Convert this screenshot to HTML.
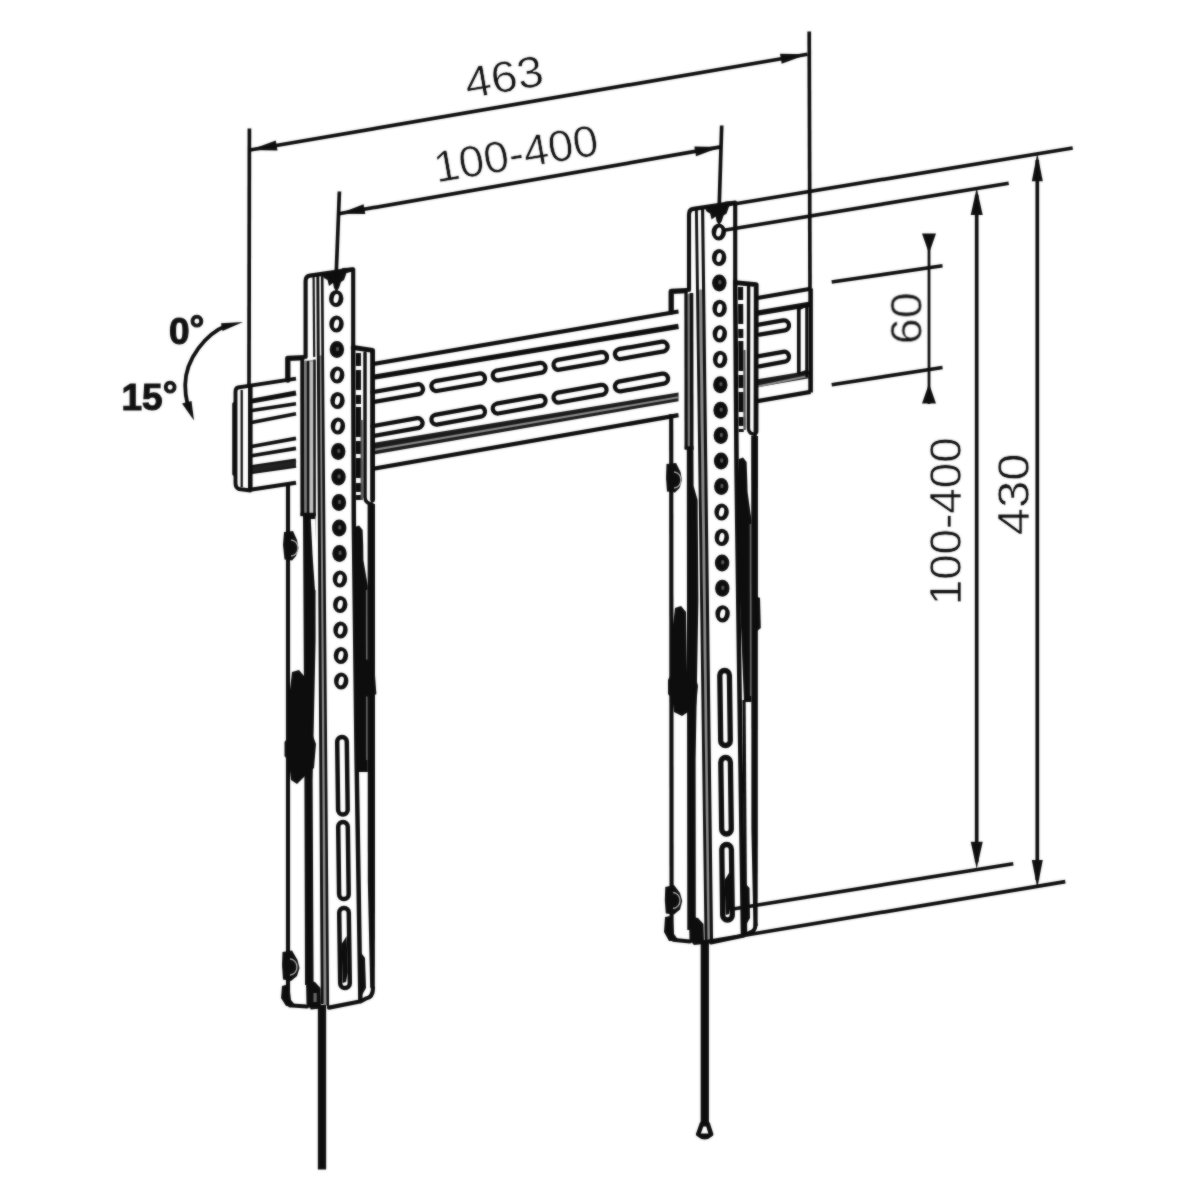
<!DOCTYPE html>
<html lang="en"><head><meta charset="utf-8"><title>Wall mount dimensions</title>
<style>html,body{margin:0;padding:0;background:#fff}svg{display:block}</style></head>
<body>
<svg width="1200" height="1200" viewBox="0 0 1200 1200">
<defs><filter id="soft" x="0" y="0" width="1200" height="1200" filterUnits="userSpaceOnUse" color-interpolation-filters="sRGB"><feGaussianBlur in="SourceGraphic" stdDeviation="0.8" result="b"/><feComposite in="SourceGraphic" in2="b" operator="arithmetic" k1="0" k2="0.5" k3="0.5" k4="0"/></filter></defs>
<rect width="1200" height="1200" fill="#fff"/>
<g filter="url(#soft)">
<text x="506.5" y="91.8" transform="rotate(-9.76 506.5 91.8)" font-family="Liberation Sans, Arial, sans-serif" font-size="44" text-anchor="middle" fill="#111" stroke="#fff" stroke-width="0.6" textLength="79" lengthAdjust="spacingAndGlyphs">463</text>
<text x="518.5" y="168.6" transform="rotate(-9.9 518.5 168.6)" font-family="Liberation Sans, Arial, sans-serif" font-size="44" text-anchor="middle" fill="#111" stroke="#fff" stroke-width="0.6" textLength="166" lengthAdjust="spacingAndGlyphs">100-400</text>
<text x="922.0" y="318.3" transform="rotate(-90 922.0 318.3)" font-family="Liberation Sans, Arial, sans-serif" font-size="45" text-anchor="middle" fill="#111" stroke="#fff" stroke-width="0.6" textLength="52" lengthAdjust="spacingAndGlyphs">60</text>
<text x="960.6" y="521.3" transform="rotate(-90 960.6 521.3)" font-family="Liberation Sans, Arial, sans-serif" font-size="45" text-anchor="middle" fill="#111" stroke="#fff" stroke-width="0.6" textLength="168" lengthAdjust="spacingAndGlyphs">100-400</text>
<text x="1029.4" y="494.3" transform="rotate(-90 1029.4 494.3)" font-family="Liberation Sans, Arial, sans-serif" font-size="45" text-anchor="middle" fill="#111" stroke="#fff" stroke-width="0.6" textLength="82" lengthAdjust="spacingAndGlyphs">430</text>
<text x="169" y="344" font-family="Liberation Sans, Arial, sans-serif" font-size="37" font-weight="bold" fill="#111" stroke="#111" stroke-width="1.1">0<tspan dy="-2.6">°</tspan></text>
<text x="121.5" y="409.5" font-family="Liberation Sans, Arial, sans-serif" font-size="37" font-weight="bold" fill="#111" stroke="#111" stroke-width="1.1">15<tspan dy="-3">°</tspan></text>
<path d="M226,325.8 C207,333.5 185.4,358 185.2,385 C185.2,392 186,398 187.5,404" stroke="#0d0d0d" stroke-width="3.79" fill="none" stroke-linejoin="round" stroke-linecap="round" />
<polygon points="243.0,322.0 221.0,323.2 222.5,331.0" fill="#0d0d0d" stroke="none" stroke-width="0" stroke-linejoin="round"/>
<polygon points="194.0,420.5 182.0,403.5 191.5,401.0" fill="#0d0d0d" stroke="none" stroke-width="0" stroke-linejoin="round"/>
<path d="M238,387.5 Q235.5,388 235.5,392 L235.5,483 Q235.5,488 239,489 L250.3,490.5 L250.3,385.6 Z" stroke="#0d0d0d" stroke-width="3.91" fill="#fff" stroke-linejoin="round" stroke-linecap="round" />
<line x1="241.7" y1="390.0" x2="241.7" y2="487.0" stroke="#0d0d0d" stroke-width="2.3" stroke-linecap="butt" />
<path d="M235.5,402 L233.6,404 L233.6,474 L235.5,476" stroke="#0d0d0d" stroke-width="2.76" fill="none" stroke-linejoin="round" stroke-linecap="round" />
<polygon points="250.3,385.2 296.0,378.3 296.0,483.5 250.3,490.4" fill="#fff" stroke="none" stroke-width="0" stroke-linejoin="round"/>
<line x1="250.3" y1="385.6" x2="296.0" y2="378.6" stroke="#0d0d0d" stroke-width="3.91" stroke-linecap="butt" />
<line x1="250.3" y1="401.3" x2="296.0" y2="393.0" stroke="#0d0d0d" stroke-width="4.83" stroke-linecap="butt" />
<line x1="250.3" y1="410.7" x2="296.0" y2="403.7" stroke="#0d0d0d" stroke-width="3.68" stroke-linecap="butt" />
<line x1="250.3" y1="422.7" x2="296.0" y2="413.7" stroke="#0d0d0d" stroke-width="3.68" stroke-linecap="butt" />
<line x1="250.3" y1="446.7" x2="296.0" y2="438.4" stroke="#0d0d0d" stroke-width="3.68" stroke-linecap="butt" />
<line x1="250.3" y1="456.0" x2="296.0" y2="448.4" stroke="#0d0d0d" stroke-width="3.68" stroke-linecap="butt" />
<line x1="250.3" y1="467.2" x2="296.0" y2="460.4" stroke="#0d0d0d" stroke-width="3.91" stroke-linecap="butt" />
<line x1="250.3" y1="472.2" x2="296.0" y2="465.6" stroke="#0d0d0d" stroke-width="4.14" stroke-linecap="butt" />
<line x1="250.3" y1="489.8" x2="296.0" y2="482.8" stroke="#0d0d0d" stroke-width="3.91" stroke-linecap="butt" />
<polygon points="250.3,467.0 296.0,460.5 296.0,466.0 250.3,472.5" fill="#222" stroke="none" stroke-width="0" stroke-linejoin="round"/>
<line x1="250.3" y1="385.0" x2="250.3" y2="491.0" stroke="#0d0d0d" stroke-width="4.6" stroke-linecap="butt" />
<polygon points="372.0,364.3 678.5,311.5 678.5,415.1 372.0,469.0" fill="#fff" stroke="none" stroke-width="0" stroke-linejoin="round"/>
<line x1="372.0" y1="364.3" x2="678.5" y2="311.5" stroke="#0d0d0d" stroke-width="4.14" stroke-linecap="butt" />
<line x1="372.0" y1="377.5" x2="678.5" y2="326.3" stroke="#0d0d0d" stroke-width="5.29" stroke-linecap="butt" />
<polygon points="372.0,443.1 678.5,392.4 678.5,401.2 372.0,454.8" fill="#1a1a1a" stroke="none" stroke-width="0" stroke-linejoin="round"/>
<line x1="372.0" y1="450.2" x2="678.5" y2="397.3" stroke="#8a8a8a" stroke-width="2.07" stroke-linecap="butt" />
<line x1="372.0" y1="469.0" x2="678.5" y2="415.1" stroke="#0d0d0d" stroke-width="4.37" stroke-linecap="butt" />
<path d="M372.1,392.2 L417.1,384.3 A5.0,5.0 0 0 1 418.9,394.2 L373.9,402.0 " stroke="#0d0d0d" stroke-width="4.25" fill="none" stroke-linejoin="round" stroke-linecap="round" />
<path d="M372.1,426.2 L417.1,418.1 A5.0,5.0 0 0 1 418.9,427.9 L373.9,436.0 " stroke="#0d0d0d" stroke-width="4.25" fill="none" stroke-linejoin="round" stroke-linecap="round" />
<path d="M435.1,381.2 L479.1,373.5 A5.0,5.0 0 0 1 480.9,383.4 L436.9,391.0 A5.0,5.0 0 0 1 435.1,381.2 Z" stroke="#0d0d0d" stroke-width="4.25" fill="none" stroke-linejoin="round" stroke-linecap="round" />
<path d="M435.1,414.8 L479.1,406.8 A5.0,5.0 0 0 1 480.9,416.7 L436.9,424.6 A5.0,5.0 0 0 1 435.1,414.8 Z" stroke="#0d0d0d" stroke-width="4.25" fill="none" stroke-linejoin="round" stroke-linecap="round" />
<path d="M496.4,370.5 L540.1,362.9 A5.0,5.0 0 0 1 541.9,372.7 L498.2,380.3 A5.0,5.0 0 0 1 496.4,370.5 Z" stroke="#0d0d0d" stroke-width="4.25" fill="none" stroke-linejoin="round" stroke-linecap="round" />
<path d="M496.4,403.7 L540.1,395.8 A5.0,5.0 0 0 1 541.9,405.6 L498.2,413.5 A5.0,5.0 0 0 1 496.4,403.7 Z" stroke="#0d0d0d" stroke-width="4.25" fill="none" stroke-linejoin="round" stroke-linecap="round" />
<path d="M557.6,359.8 L601.1,352.2 A5.0,5.0 0 0 1 602.9,362.1 L559.4,369.7 A5.0,5.0 0 0 1 557.6,359.8 Z" stroke="#0d0d0d" stroke-width="4.25" fill="none" stroke-linejoin="round" stroke-linecap="round" />
<path d="M557.6,392.6 L601.1,384.8 A5.0,5.0 0 0 1 602.9,394.6 L559.4,402.5 A5.0,5.0 0 0 1 557.6,392.6 Z" stroke="#0d0d0d" stroke-width="4.25" fill="none" stroke-linejoin="round" stroke-linecap="round" />
<path d="M618.6,349.2 L662.1,341.6 A5.0,5.0 0 0 1 663.9,351.4 L620.4,359.0 A5.0,5.0 0 0 1 618.6,349.2 Z" stroke="#0d0d0d" stroke-width="4.25" fill="none" stroke-linejoin="round" stroke-linecap="round" />
<path d="M618.6,381.6 L662.1,373.7 A5.0,5.0 0 0 1 663.9,383.6 L620.4,391.4 A5.0,5.0 0 0 1 618.6,381.6 Z" stroke="#0d0d0d" stroke-width="4.25" fill="none" stroke-linejoin="round" stroke-linecap="round" />
<polygon points="756.0,298.2 810.6,288.8 810.6,391.8 756.0,401.4" fill="#fff" stroke="none" stroke-width="0" stroke-linejoin="round"/>
<line x1="756.0" y1="298.2" x2="810.6" y2="288.8" stroke="#0d0d0d" stroke-width="4.14" stroke-linecap="butt" />
<line x1="756.0" y1="313.4" x2="810.6" y2="304.2" stroke="#0d0d0d" stroke-width="5.29" stroke-linecap="butt" />
<polygon points="756.0,379.6 810.6,370.6 810.6,378.0 756.0,387.6" fill="#1a1a1a" stroke="none" stroke-width="0" stroke-linejoin="round"/>
<line x1="756.0" y1="386.7" x2="810.6" y2="375.5" stroke="#8a8a8a" stroke-width="2.07" stroke-linecap="butt" />
<line x1="756.0" y1="401.4" x2="810.6" y2="391.8" stroke="#0d0d0d" stroke-width="4.37" stroke-linecap="butt" />
<path d="M757.6,324.9 L783.1,320.4 A5.0,5.0 0 0 1 784.9,330.3 L759.4,334.7 " stroke="#0d0d0d" stroke-width="4.25" fill="none" stroke-linejoin="round" stroke-linecap="round" />
<path d="M757.6,356.4 L783.1,351.8 A5.0,5.0 0 0 1 784.9,361.7 L759.4,366.3 " stroke="#0d0d0d" stroke-width="4.25" fill="none" stroke-linejoin="round" stroke-linecap="round" />
<line x1="810.6" y1="288.5" x2="810.6" y2="392.5" stroke="#0d0d0d" stroke-width="4.6" stroke-linecap="butt" />
<line x1="798.8" y1="307.5" x2="798.8" y2="374.0" stroke="#0d0d0d" stroke-width="3.68" stroke-linecap="butt" />
<line x1="806.6" y1="303.5" x2="806.6" y2="377.0" stroke="#0d0d0d" stroke-width="2.76" stroke-linecap="butt" />
<line x1="798.8" y1="309.0" x2="807.0" y2="305.0" stroke="#0d0d0d" stroke-width="2.53" stroke-linecap="butt" />
<line x1="798.8" y1="374.0" x2="807.0" y2="371.0" stroke="#0d0d0d" stroke-width="2.53" stroke-linecap="butt" />
<path d="M311,357.4 L287.8,358.3 L287.8,380" stroke="#0d0d0d" stroke-width="5.29" fill="none" stroke-linejoin="round" stroke-linecap="round" />
<line x1="288.0" y1="484.0" x2="288.0" y2="1003.0" stroke="#0d0d0d" stroke-width="4.14" stroke-linecap="butt" />
<polygon points="305.0,279.0 308.0,275.0 353.0,269.0 353.5,520.0 357.0,1002.0 330.0,1007.5 320.0,1003.0 303.5,520.0" fill="#fff" stroke="none" stroke-width="0" stroke-linejoin="round"/>
<polygon points="300.4,361.0 315.6,360.0 315.6,514.0 300.4,514.0" fill="#7d7d7d" stroke="none" stroke-width="0" stroke-linejoin="round"/>
<line x1="302.2" y1="359.5" x2="302.4" y2="516.0" stroke="#0d0d0d" stroke-width="3.56" stroke-linecap="butt" />
<line x1="308.0" y1="361.0" x2="308.0" y2="513.0" stroke="#0d0d0d" stroke-width="2.3" stroke-linecap="butt" />
<line x1="311.5" y1="361.5" x2="311.5" y2="513.0" stroke="#c4c4c4" stroke-width="3.33" stroke-linecap="butt" />
<line x1="314.5" y1="359.5" x2="314.6" y2="515.0" stroke="#0d0d0d" stroke-width="2.3" stroke-linecap="butt" />
<line x1="300.4" y1="514.5" x2="316.0" y2="514.5" stroke="#0d0d0d" stroke-width="3.45" stroke-linecap="butt" />
<polygon points="303.0,514.0 315.5,514.0 315.6,640.0 312.6,780.0 313.6,985.0 305.0,985.0 304.4,780.0" fill="#0d0d0d" stroke="none" stroke-width="0" stroke-linejoin="round"/>
<polygon points="310.8,519.0 315.4,519.0 317.0,590.0 315.0,590.0 312.6,556.0" fill="#fff" stroke="none" stroke-width="0" stroke-linejoin="round"/>
<path d="M305.6,357 L305.6,281 Q305.6,276.3 310,275.6 L353.2,269.4 L353.2,347" stroke="#0d0d0d" stroke-width="4.14" fill="none" stroke-linejoin="round" stroke-linecap="round" />
<line x1="313.6" y1="277.0" x2="314.2" y2="357.0" stroke="#0d0d0d" stroke-width="2.18" stroke-linecap="butt" />
<path d="M320.4,357 L325,1004" stroke="#8c8c8c" stroke-width="3.68" fill="none" stroke-linejoin="round" stroke-linecap="round" />
<path d="M317.8,276.5 L318.3,357 L322.2,1003" stroke="#0d0d0d" stroke-width="2.88" fill="none" stroke-linejoin="round" stroke-linecap="round" />
<path d="M322.2,276 L322.7,357 L327.8,1005" stroke="#0d0d0d" stroke-width="2.64" fill="none" stroke-linejoin="round" stroke-linecap="round" />
<path d="M353.2,347 L353.8,520 L356.6,760 L360.4,1001" stroke="#0d0d0d" stroke-width="4.48" fill="none" stroke-linejoin="round" stroke-linecap="round" />
<polygon points="322.0,273.6 336.0,271.6 343.0,268.0 353.0,267.6 354.0,271.0 346.5,273.0 344.0,280.0 341.0,282.0 339.0,288.0 336.5,291.5 334.0,288.0 333.0,283.0 329.0,286.0 327.5,280.0 324.0,278.0" fill="#0d0d0d" stroke="none" stroke-width="0" stroke-linejoin="round"/>
<ellipse cx="336.2" cy="298.5" rx="7.2" ry="8.6" fill="#0d0d0d"/>
<ellipse cx="336.2" cy="298.5" rx="2.5" ry="4.6" fill="#fff" transform="rotate(12 336.2 298.5)"/>
<ellipse cx="336.5" cy="324.0" rx="7.2" ry="8.6" fill="#0d0d0d"/>
<ellipse cx="336.5" cy="324.0" rx="2.5" ry="4.6" fill="#fff" transform="rotate(12 336.5 324.0)"/>
<ellipse cx="336.9" cy="349.5" rx="7.2" ry="8.5" fill="#0d0d0d"/>
<ellipse cx="337.5" cy="348.9" rx="1.6" ry="2.2" fill="#555"/>
<ellipse cx="337.2" cy="375.0" rx="7.2" ry="8.6" fill="#0d0d0d"/>
<ellipse cx="337.2" cy="375.0" rx="2.5" ry="4.6" fill="#fff" transform="rotate(12 337.2 375.0)"/>
<ellipse cx="337.5" cy="400.5" rx="7.2" ry="8.6" fill="#0d0d0d"/>
<ellipse cx="337.5" cy="400.5" rx="2.5" ry="4.6" fill="#fff" transform="rotate(12 337.5 400.5)"/>
<ellipse cx="337.9" cy="426.0" rx="7.2" ry="8.6" fill="#0d0d0d"/>
<ellipse cx="337.9" cy="426.0" rx="2.5" ry="4.6" fill="#fff" transform="rotate(12 337.9 426.0)"/>
<ellipse cx="338.2" cy="451.5" rx="7.2" ry="8.5" fill="#0d0d0d"/>
<ellipse cx="338.8" cy="450.9" rx="1.6" ry="2.2" fill="#555"/>
<ellipse cx="338.5" cy="477.0" rx="7.2" ry="8.5" fill="#0d0d0d"/>
<ellipse cx="339.1" cy="476.4" rx="1.6" ry="2.2" fill="#555"/>
<ellipse cx="338.9" cy="502.5" rx="7.2" ry="8.5" fill="#0d0d0d"/>
<ellipse cx="339.5" cy="501.9" rx="1.6" ry="2.2" fill="#555"/>
<ellipse cx="339.2" cy="528.0" rx="7.2" ry="8.5" fill="#0d0d0d"/>
<ellipse cx="339.8" cy="527.4" rx="1.6" ry="2.2" fill="#555"/>
<ellipse cx="339.5" cy="553.5" rx="7.2" ry="8.5" fill="#0d0d0d"/>
<ellipse cx="340.1" cy="552.9" rx="1.6" ry="2.2" fill="#555"/>
<ellipse cx="339.9" cy="579.0" rx="7.2" ry="8.6" fill="#0d0d0d"/>
<ellipse cx="339.9" cy="579.0" rx="2.5" ry="4.6" fill="#fff" transform="rotate(12 339.9 579.0)"/>
<ellipse cx="340.2" cy="604.5" rx="7.2" ry="8.6" fill="#0d0d0d"/>
<ellipse cx="340.2" cy="604.5" rx="2.5" ry="4.6" fill="#fff" transform="rotate(12 340.2 604.5)"/>
<ellipse cx="340.5" cy="630.0" rx="7.2" ry="8.6" fill="#0d0d0d"/>
<ellipse cx="340.5" cy="630.0" rx="2.5" ry="4.6" fill="#fff" transform="rotate(12 340.5 630.0)"/>
<ellipse cx="340.9" cy="655.5" rx="7.2" ry="8.6" fill="#0d0d0d"/>
<ellipse cx="340.9" cy="655.5" rx="2.5" ry="4.6" fill="#fff" transform="rotate(12 340.9 655.5)"/>
<ellipse cx="341.2" cy="681.0" rx="7.2" ry="8.6" fill="#0d0d0d"/>
<ellipse cx="341.2" cy="681.0" rx="2.5" ry="4.6" fill="#fff" transform="rotate(12 341.2 681.0)"/>
<path d="M337.2,741.8 A4.8,4.8 0 0 1 346.8,741.8 L347.7,809.7 A4.8,4.8 0 0 1 338.1,809.7 Z" stroke="#0d0d0d" stroke-width="4.48" fill="#fff" stroke-linejoin="round" stroke-linecap="round" />
<path d="M338.2,826.8 A4.8,4.8 0 0 1 347.8,826.8 L348.7,894.2 A4.8,4.8 0 0 1 339.1,894.2 Z" stroke="#0d0d0d" stroke-width="4.48" fill="#fff" stroke-linejoin="round" stroke-linecap="round" />
<path d="M339.2,912.8 A4.8,4.8 0 0 1 348.8,912.8 L349.8,983.2 A4.8,4.8 0 0 1 340.2,983.2 Z" stroke="#0d0d0d" stroke-width="4.48" fill="#fff" stroke-linejoin="round" stroke-linecap="round" />
<polygon points="341.6,944.0 346.6,936.0 347.8,972.0 346.0,982.0 342.6,983.0" fill="#0d0d0d" stroke="none" stroke-width="0" stroke-linejoin="round"/>
<path d="M353.2,347.5 L372.6,350.3 L372.6,500" stroke="#0d0d0d" stroke-width="4.83" fill="none" stroke-linejoin="round" stroke-linecap="round" />
<path d="M365,353 L365,497 Q365,503.5 372,504" stroke="#0d0d0d" stroke-width="3.45" fill="none" stroke-linejoin="round" stroke-linecap="round" />
<line x1="358.4" y1="353.0" x2="358.6" y2="500.0" stroke="#0d0d0d" stroke-width="5.06" stroke-linecap="butt" stroke-dasharray="13 4 20 5 9 3 30 4"/>
<line x1="361.6" y1="420.0" x2="361.8" y2="500.0" stroke="#555" stroke-width="2.3" stroke-linecap="butt" />
<polygon points="367.6,504.0 375.0,504.0 375.0,900.0 374.8,988.0 370.2,988.0 367.8,880.0" fill="#0d0d0d" stroke="none" stroke-width="0" stroke-linejoin="round"/>
<polygon points="355.0,527.0 359.0,525.5 362.6,530.0 363.2,545.0 363.4,560.0 367.8,586.0 367.8,772.0 357.5,772.0 355.0,560.0" fill="#0d0d0d" stroke="none" stroke-width="0" stroke-linejoin="round"/>
<line x1="366.6" y1="590.0" x2="366.8" y2="760.0" stroke="#6a6a6a" stroke-width="1.38" stroke-linecap="butt" />
<polygon points="362.0,658.0 374.0,662.0 376.4,694.0 370.0,698.0 362.0,694.0" fill="#0d0d0d" stroke="none" stroke-width="0" stroke-linejoin="round"/>
<polygon points="359.0,950.0 365.0,958.0 366.0,988.0 361.0,997.0" fill="#0d0d0d" stroke="none" stroke-width="0" stroke-linejoin="round"/>
<polygon points="292.0,672.0 299.0,670.0 304.0,676.0 306.0,730.0 313.0,736.0 316.0,744.0 314.0,768.0 305.0,776.0 297.0,784.0 291.0,780.0 289.0,762.0 284.5,756.0 284.5,742.0 289.0,736.0 290.0,690.0" fill="#0d0d0d" stroke="none" stroke-width="0" stroke-linejoin="round"/>
<polygon points="284.0,532.0 293.0,531.0 297.0,540.0 298.5,548.0 296.0,556.0 292.0,560.5 284.5,559.5 283.0,545.0" fill="#0d0d0d" stroke="none" stroke-width="0" stroke-linejoin="round"/>
<path d="M291,540 A7,8 0 0 1 291,556" stroke="#aaa" stroke-width="1.4" fill="none"/>
<polygon points="282.5,952.0 292.0,950.5 297.5,960.0 299.5,968.0 297.0,976.0 291.0,981.0 283.0,979.5 282.0,965.0" fill="#0d0d0d" stroke="none" stroke-width="0" stroke-linejoin="round"/>
<path d="M290,959 A7,8 0 0 1 290,975" stroke="#aaa" stroke-width="1.4" fill="none"/>
<polygon points="282.0,986.0 289.0,984.0 291.0,1000.0 296.0,1006.0 286.0,1006.0 281.0,998.0" fill="#0d0d0d" stroke="none" stroke-width="0" stroke-linejoin="round"/>
<path d="M288,1003 Q288.5,1005.5 292,1005.5 L307,1006.5" stroke="#0d0d0d" stroke-width="4.14" fill="none" stroke-linejoin="round" stroke-linecap="round" />
<polygon points="306.0,980.0 315.0,982.0 320.5,988.0 321.0,1008.5 311.0,1009.5 306.5,1004.0" fill="#0d0d0d" stroke="none" stroke-width="0" stroke-linejoin="round"/>
<rect x="313.5" y="993" width="3.2" height="9" fill="#666"/>
<path d="M373,988 Q373,997.5 366,998.5 L361,1001.2 L329,1007.6" stroke="#0d0d0d" stroke-width="4.14" fill="none" stroke-linejoin="round" stroke-linecap="round" />
<line x1="322.0" y1="1005.0" x2="322.0" y2="1169.5" stroke="#0d0d0d" stroke-width="8.28" stroke-linecap="butt" />
<path d="M692,290.3 L671.2,291.4 L671.2,312" stroke="#0d0d0d" stroke-width="5.29" fill="none" stroke-linejoin="round" stroke-linecap="round" />
<line x1="671.2" y1="414.0" x2="671.6" y2="938.0" stroke="#0d0d0d" stroke-width="4.14" stroke-linecap="butt" />
<polygon points="688.0,213.0 691.0,208.3 735.2,202.3 736.0,470.0 741.5,938.0 712.0,943.0 703.0,940.0 687.5,470.0" fill="#fff" stroke="none" stroke-width="0" stroke-linejoin="round"/>
<polygon points="684.5,294.0 693.2,293.5 693.4,447.0 684.6,447.0" fill="#7d7d7d" stroke="none" stroke-width="0" stroke-linejoin="round"/>
<line x1="686.0" y1="293.0" x2="686.2" y2="449.0" stroke="#0d0d0d" stroke-width="2.99" stroke-linecap="butt" />
<line x1="691.5" y1="293.0" x2="691.7" y2="449.0" stroke="#0d0d0d" stroke-width="3.45" stroke-linecap="butt" />
<line x1="684.6" y1="448.0" x2="693.6" y2="448.0" stroke="#0d0d0d" stroke-width="3.45" stroke-linecap="butt" />
<polygon points="686.8,448.0 693.4,448.0 693.6,486.0 697.6,500.0 698.4,600.0 695.6,760.0 695.8,930.0 687.3,930.0" fill="#0d0d0d" stroke="none" stroke-width="0" stroke-linejoin="round"/>
<path d="M689,290 L689,214.5 Q689,209.5 693.4,208.9 L735.2,202.6 L735.2,281" stroke="#0d0d0d" stroke-width="4.14" fill="none" stroke-linejoin="round" stroke-linecap="round" />
<path d="M700.6,291 L708.8,940" stroke="#8c8c8c" stroke-width="3.68" fill="none" stroke-linejoin="round" stroke-linecap="round" />
<path d="M696.4,210 L697.5,291 L706,940" stroke="#0d0d0d" stroke-width="2.88" fill="none" stroke-linejoin="round" stroke-linecap="round" />
<path d="M702.6,209.3 L703.6,291 L711.5,941" stroke="#0d0d0d" stroke-width="3.1" fill="none" stroke-linejoin="round" stroke-linecap="round" />
<path d="M735.2,281 L736.6,470 L739.6,700 L743.0,935" stroke="#0d0d0d" stroke-width="4.6" fill="none" stroke-linejoin="round" stroke-linecap="round" />
<polygon points="704.6,207.2 718.6,205.2 725.6,201.6 735.6,201.2 736.6,204.6 729.1,206.6 726.6,213.6 723.6,215.6 721.6,221.6 719.1,225.1 716.6,221.6 715.6,216.6 711.6,219.6 710.1,213.6 706.6,211.6" fill="#0d0d0d" stroke="none" stroke-width="0" stroke-linejoin="round"/>
<ellipse cx="718.8" cy="232.0" rx="7.2" ry="8.6" fill="#0d0d0d"/>
<ellipse cx="718.8" cy="232.0" rx="2.5" ry="4.6" fill="#fff" transform="rotate(12 718.8 232.0)"/>
<ellipse cx="719.1" cy="257.5" rx="7.2" ry="8.6" fill="#0d0d0d"/>
<ellipse cx="719.1" cy="257.5" rx="2.5" ry="4.6" fill="#fff" transform="rotate(12 719.1 257.5)"/>
<ellipse cx="719.3" cy="282.9" rx="7.2" ry="8.5" fill="#0d0d0d"/>
<ellipse cx="719.9" cy="282.3" rx="1.6" ry="2.2" fill="#555"/>
<ellipse cx="719.6" cy="308.4" rx="7.2" ry="8.6" fill="#0d0d0d"/>
<ellipse cx="719.6" cy="308.4" rx="2.5" ry="4.6" fill="#fff" transform="rotate(12 719.6 308.4)"/>
<ellipse cx="719.8" cy="333.8" rx="7.2" ry="8.6" fill="#0d0d0d"/>
<ellipse cx="719.8" cy="333.8" rx="2.5" ry="4.6" fill="#fff" transform="rotate(12 719.8 333.8)"/>
<ellipse cx="720.1" cy="359.3" rx="7.2" ry="8.6" fill="#0d0d0d"/>
<ellipse cx="720.1" cy="359.3" rx="2.5" ry="4.6" fill="#fff" transform="rotate(12 720.1 359.3)"/>
<ellipse cx="720.3" cy="384.7" rx="7.2" ry="8.5" fill="#0d0d0d"/>
<ellipse cx="720.9" cy="384.1" rx="1.6" ry="2.2" fill="#555"/>
<ellipse cx="720.6" cy="410.2" rx="7.2" ry="8.5" fill="#0d0d0d"/>
<ellipse cx="721.2" cy="409.6" rx="1.6" ry="2.2" fill="#555"/>
<ellipse cx="720.8" cy="435.6" rx="7.2" ry="8.5" fill="#0d0d0d"/>
<ellipse cx="721.4" cy="435.0" rx="1.6" ry="2.2" fill="#555"/>
<ellipse cx="721.1" cy="461.1" rx="7.2" ry="8.5" fill="#0d0d0d"/>
<ellipse cx="721.7" cy="460.5" rx="1.6" ry="2.2" fill="#555"/>
<ellipse cx="721.3" cy="486.5" rx="7.2" ry="8.5" fill="#0d0d0d"/>
<ellipse cx="721.9" cy="485.9" rx="1.6" ry="2.2" fill="#555"/>
<ellipse cx="721.6" cy="512.0" rx="7.2" ry="8.6" fill="#0d0d0d"/>
<ellipse cx="721.6" cy="512.0" rx="2.5" ry="4.6" fill="#fff" transform="rotate(12 721.6 512.0)"/>
<ellipse cx="721.8" cy="537.4" rx="7.2" ry="8.6" fill="#0d0d0d"/>
<ellipse cx="721.8" cy="537.4" rx="2.5" ry="4.6" fill="#fff" transform="rotate(12 721.8 537.4)"/>
<ellipse cx="722.1" cy="562.9" rx="7.2" ry="8.5" fill="#0d0d0d"/>
<ellipse cx="722.7" cy="562.3" rx="1.6" ry="2.2" fill="#555"/>
<ellipse cx="722.3" cy="588.3" rx="7.2" ry="8.5" fill="#0d0d0d"/>
<ellipse cx="722.9" cy="587.7" rx="1.6" ry="2.2" fill="#555"/>
<ellipse cx="722.6" cy="613.8" rx="7.2" ry="8.6" fill="#0d0d0d"/>
<ellipse cx="722.6" cy="613.8" rx="2.5" ry="4.6" fill="#fff" transform="rotate(12 722.6 613.8)"/>
<path d="M719.8,675.3 A4.8,4.8 0 0 1 729.4,675.3 L730.3,740.7 A4.8,4.8 0 0 1 720.7,740.7 Z" stroke="#0d0d0d" stroke-width="5.29" fill="#fff" stroke-linejoin="round" stroke-linecap="round" />
<path d="M720.8,762.3 A4.8,4.8 0 0 1 730.4,762.3 L731.3,829.2 A4.8,4.8 0 0 1 721.7,829.2 Z" stroke="#0d0d0d" stroke-width="5.29" fill="#fff" stroke-linejoin="round" stroke-linecap="round" />
<path d="M721.8,849.3 A4.8,4.8 0 0 1 731.4,849.3 L732.3,915.2 A4.8,4.8 0 0 1 722.7,915.2 Z" stroke="#0d0d0d" stroke-width="5.29" fill="#fff" stroke-linejoin="round" stroke-linecap="round" />
<polygon points="724.6,880.0 729.6,872.0 730.8,905.0 729.0,914.0 725.6,915.0" fill="#0d0d0d" stroke="none" stroke-width="0" stroke-linejoin="round"/>
<path d="M735.4,282.6 L756.2,284.6 L756.0,432" stroke="#0d0d0d" stroke-width="4.83" fill="none" stroke-linejoin="round" stroke-linecap="round" />
<path d="M748.6,287 L748.4,428 Q748.4,434 755.5,434.5" stroke="#0d0d0d" stroke-width="3.45" fill="none" stroke-linejoin="round" stroke-linecap="round" />
<line x1="740.6" y1="287.0" x2="741.2" y2="432.0" stroke="#0d0d0d" stroke-width="5.06" stroke-linecap="butt" stroke-dasharray="13 4 20 5 9 3 30 4"/>
<line x1="744.4" y1="350.0" x2="744.6" y2="430.0" stroke="#555" stroke-width="2.3" stroke-linecap="butt" />
<polygon points="751.2,436.0 758.0,436.0 757.8,840.0 757.6,926.0 753.4,926.0 751.4,830.0" fill="#0d0d0d" stroke="none" stroke-width="0" stroke-linejoin="round"/>
<polygon points="739.0,459.0 743.0,457.5 746.6,462.0 747.2,478.0 747.6,492.0 751.4,520.0 751.4,702.0 744.0,702.0 738.4,560.0 738.0,492.0" fill="#0d0d0d" stroke="none" stroke-width="0" stroke-linejoin="round"/>
<line x1="750.4" y1="524.0" x2="750.6" y2="696.0" stroke="#6a6a6a" stroke-width="1.38" stroke-linecap="butt" />
<polygon points="752.0,594.0 760.0,598.0 760.8,628.0 756.0,632.0 752.0,628.0" fill="#0d0d0d" stroke="none" stroke-width="0" stroke-linejoin="round"/>
<line x1="744.0" y1="700.0" x2="745.6" y2="934.0" stroke="#0d0d0d" stroke-width="3.22" stroke-linecap="butt" />
<polygon points="744.0,882.0 749.5,888.0 750.0,918.0 745.5,926.0" fill="#0d0d0d" stroke="none" stroke-width="0" stroke-linejoin="round"/>
<polygon points="675.0,608.0 681.0,606.0 686.0,612.0 687.0,672.0 696.0,678.0 698.0,686.0 696.0,706.0 688.0,712.0 682.0,716.0 674.0,712.0 672.5,700.0 668.0,694.0 668.0,680.0 672.0,672.0 673.0,625.0" fill="#0d0d0d" stroke="none" stroke-width="0" stroke-linejoin="round"/>
<polygon points="666.5,464.0 676.0,463.0 680.5,472.0 682.0,480.0 679.5,488.0 675.0,492.5 667.0,491.5 666.0,478.0" fill="#0d0d0d" stroke="none" stroke-width="0" stroke-linejoin="round"/>
<path d="M674,472 A7,8 0 0 1 674,488" stroke="#aaa" stroke-width="1.4" fill="none"/>
<polygon points="665.3,887.0 674.0,885.0 680.0,893.0 682.2,901.0 680.0,909.5 674.0,914.5 665.8,913.5 664.8,900.0" fill="#0d0d0d" stroke="none" stroke-width="0" stroke-linejoin="round"/>
<path d="M673,892.5 A7,8 0 0 1 673,908.5" stroke="#aaa" stroke-width="1.4" fill="none"/>
<polygon points="665.0,917.0 672.5,915.5 674.0,934.0 679.0,941.0 669.0,941.0 664.0,932.0" fill="#0d0d0d" stroke="none" stroke-width="0" stroke-linejoin="round"/>
<path d="M671.6,937 Q672,940 675,940 L690,941.5" stroke="#0d0d0d" stroke-width="3.91" fill="none" stroke-linejoin="round" stroke-linecap="round" />
<polygon points="689.0,916.0 698.0,918.0 703.5,924.0 704.0,944.0 694.0,945.0 689.5,940.0" fill="#0d0d0d" stroke="none" stroke-width="0" stroke-linejoin="round"/>
<path d="M755.6,924 Q755.6,931 750,932.5 L744,935.5 L711,942.6" stroke="#0d0d0d" stroke-width="3.91" fill="none" stroke-linejoin="round" stroke-linecap="round" />
<line x1="704.8" y1="940.0" x2="704.8" y2="1123.0" stroke="#0d0d0d" stroke-width="8.28" stroke-linecap="butt" />
<path d="M701.4,1123.5 L697.6,1134.4 Q704.7,1140.8 711.7,1134.4 L708.2,1123.5 Z" stroke="#0d0d0d" stroke-width="3.45" fill="#0d0d0d" stroke-linejoin="round" stroke-linecap="round" />
<polygon points="703.4,1126.5 706.2,1126.5 708.4,1133.4 700.8,1133.4" fill="#fff" stroke="none" stroke-width="0" stroke-linejoin="round"/>
<line x1="249.4" y1="128.5" x2="249.0" y2="387.0" stroke="#0d0d0d" stroke-width="3.68" stroke-linecap="butt" />
<line x1="809.2" y1="31.5" x2="810.0" y2="290.0" stroke="#0d0d0d" stroke-width="3.68" stroke-linecap="butt" />
<line x1="250.0" y1="150.0" x2="807.5" y2="54.2" stroke="#0d0d0d" stroke-width="3.68" stroke-linecap="butt" />
<polygon points="250.0,150.0 275.8,140.5 277.5,150.4" fill="#0d0d0d" stroke="none" stroke-width="0" stroke-linejoin="round"/>
<polygon points="807.5,54.2 781.7,63.7 780.0,53.8" fill="#0d0d0d" stroke="none" stroke-width="0" stroke-linejoin="round"/>
<line x1="339.4" y1="191.5" x2="336.3" y2="272.0" stroke="#0d0d0d" stroke-width="3.68" stroke-linecap="butt" />
<line x1="721.7" y1="125.5" x2="719.2" y2="206.0" stroke="#0d0d0d" stroke-width="3.68" stroke-linecap="butt" />
<line x1="338.8" y1="213.7" x2="720.8" y2="146.9" stroke="#0d0d0d" stroke-width="3.68" stroke-linecap="butt" />
<polygon points="338.8,213.7 363.6,204.3 365.3,214.1" fill="#0d0d0d" stroke="none" stroke-width="0" stroke-linejoin="round"/>
<polygon points="720.8,146.9 696.0,156.3 694.3,146.5" fill="#0d0d0d" stroke="none" stroke-width="0" stroke-linejoin="round"/>
<line x1="734.0" y1="204.0" x2="1072.7" y2="148.0" stroke="#0d0d0d" stroke-width="3.68" stroke-linecap="butt" />
<line x1="704.5" y1="942.0" x2="1065.3" y2="881.6" stroke="#0d0d0d" stroke-width="3.68" stroke-linecap="butt" />
<line x1="1037.3" y1="160.0" x2="1037.3" y2="880.0" stroke="#0d0d0d" stroke-width="3.68" stroke-linecap="butt" />
<polygon points="1037.3,153.3 1042.8,181.3 1031.8,181.3" fill="#0d0d0d" stroke="none" stroke-width="0" stroke-linejoin="round"/>
<polygon points="1037.3,888.0 1031.8,860.0 1042.8,860.0" fill="#0d0d0d" stroke="none" stroke-width="0" stroke-linejoin="round"/>
<line x1="722.5" y1="230.5" x2="1008.7" y2="183.3" stroke="#0d0d0d" stroke-width="3.68" stroke-linecap="butt" />
<line x1="733.0" y1="909.0" x2="1013.3" y2="863.7" stroke="#0d0d0d" stroke-width="3.68" stroke-linecap="butt" />
<line x1="976.7" y1="195.0" x2="976.7" y2="862.0" stroke="#0d0d0d" stroke-width="3.68" stroke-linecap="butt" />
<polygon points="976.7,188.0 982.7,215.0 970.7,215.0" fill="#0d0d0d" stroke="none" stroke-width="0" stroke-linejoin="round"/>
<polygon points="976.7,868.7 970.7,841.7 982.7,841.7" fill="#0d0d0d" stroke="none" stroke-width="0" stroke-linejoin="round"/>
<line x1="831.7" y1="282.0" x2="942.5" y2="265.8" stroke="#0d0d0d" stroke-width="3.68" stroke-linecap="butt" />
<line x1="831.7" y1="384.7" x2="942.5" y2="367.5" stroke="#0d0d0d" stroke-width="3.68" stroke-linecap="butt" />
<line x1="929.0" y1="234.0" x2="929.0" y2="404.0" stroke="#0d0d0d" stroke-width="2.76" stroke-linecap="butt" />
<polygon points="929.0,253.5 922.0,233.5 936.0,233.5" fill="#0d0d0d" stroke="none" stroke-width="0" stroke-linejoin="round"/>
<polygon points="929.0,383.5 936.0,403.5 922.0,403.5" fill="#0d0d0d" stroke="none" stroke-width="0" stroke-linejoin="round"/>
</g>
</svg>
</body></html>
